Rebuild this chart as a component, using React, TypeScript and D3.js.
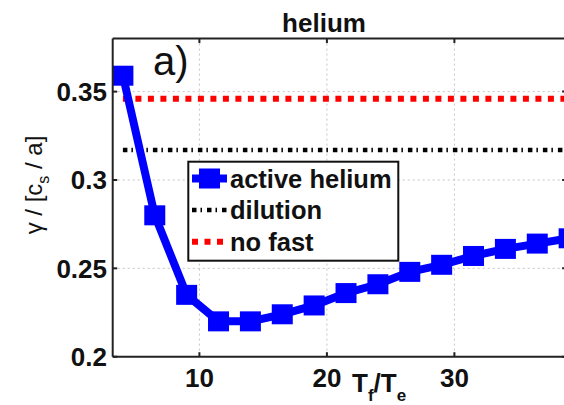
import React from "react";
import * as d3 from "d3";

const tf = [4, 6.5, 9, 11.5, 14, 16.5, 19, 21.5, 24, 26.5, 29, 31.5, 34, 36.5, 39];
const activeHelium = [0.359, 0.28, 0.235, 0.22, 0.22, 0.224, 0.229, 0.236, 0.241, 0.248, 0.252, 0.257, 0.261, 0.264, 0.267];
const dilution = 0.317;
const noFast = 0.346;
const xTicks = [10, 20, 30];
const yTicks = [0.2, 0.25, 0.3, 0.35];
const yTickLabels = ["0.2", "0.25", "0.3", "0.35"];
const legendLabels = ["active helium", "dilution", "no fast"];

const W = 564, H = 405;
const L = 112.7, R = 566.6, T = 38.6, B = 356.7;
const FONT = "'Liberation Sans', Arial, Helvetica, sans-serif";

export default function App() {
  const x = d3.scaleLinear().domain([3.2, 38.8]).range([L, R]);
  const y = d3.scaleLinear().domain([0.2, 0.38]).range([B, T]);
  const line = d3.line<number>().x((d, i) => x(tf[i])).y((d) => y(d));
  const ms = 21;
  const tl = 4.5;
  const x0 = tf[0], x1 = tf[tf.length - 1];
  const legX = 188.3, legY = 161.7, legW = 210, legH = 99;
  const rows = [178.5, 210, 241.7];
  return (
    <svg width={W} height={H} style={{ position: "absolute", left: 0, top: 0, background: "#fff" }} fontFamily={FONT}>
      <rect x={0} y={0} width={W} height={H} fill="#fff" />
      {/* grid */}
      {xTicks.map((t) => (
        <line key={"gx" + t} x1={x(t)} x2={x(t)} y1={T} y2={B} stroke="#c4c4c4" strokeWidth={1} strokeDasharray="2 3" />
      ))}
      {yTicks.slice(1).map((t) => (
        <line key={"gy" + t} x1={L} x2={R} y1={y(t)} y2={y(t)} stroke="#c4c4c4" strokeWidth={1} strokeDasharray="2 3" />
      ))}
      {/* reference lines */}
      <line x1={x(x0)} x2={x(x1)} y1={y(noFast)} y2={y(noFast)} stroke="#ff0000" strokeWidth={6} strokeDasharray="6 6.5" />
      <line x1={x(x0)} x2={x(x1)} y1={y(dilution)} y2={y(dilution)} stroke="#000" strokeWidth={4.5} strokeDasharray="4.5 4 1.5 5" />
      {/* active helium */}
      <path d={line(activeHelium) || ""} fill="none" stroke="#0000ff" strokeWidth={8} strokeLinejoin="round" />
      {activeHelium.map((v, i) => (
        <rect key={"m" + i} x={x(tf[i]) - ms / 2} y={y(v) - 10} width={ms} height={20} fill="#0000ff" />
      ))}
      {/* frame */}
      <line x1={L} x2={L} y1={T} y2={B} stroke="#222" strokeWidth={2} />
      <line x1={L} x2={R} y1={B} y2={B} stroke="#222" strokeWidth={2} />
      <line x1={L} x2={R} y1={T} y2={T} stroke="#222" strokeWidth={2} />
      <line x1={R} x2={R} y1={T} y2={B} stroke="#222" strokeWidth={2} />
      {xTicks.map((t) => (
        <g key={"tx" + t}>
          <line x1={x(t)} x2={x(t)} y1={B} y2={B - tl} stroke="#222" strokeWidth={2} />
          <line x1={x(t)} x2={x(t)} y1={T} y2={T + tl} stroke="#222" strokeWidth={2} />
          <text x={x(t)} y={387} textAnchor="middle" fontSize={26} fontWeight="bold" fill="#111">{t}</text>
        </g>
      ))}
      {yTicks.map((t, i) => (
        <g key={"ty" + t}>
          <line x1={L} x2={L + tl} y1={y(t)} y2={y(t)} stroke="#222" strokeWidth={2} />
          <line x1={R} x2={R - tl} y1={y(t)} y2={y(t)} stroke="#222" strokeWidth={2} />
          <text x={107} y={y(t) + 9.5} textAnchor="end" fontSize={26} fontWeight="bold" fill="#111">{yTickLabels[i]}</text>
        </g>
      ))}
      {/* title */}
      <text x={324} y={32} textAnchor="middle" fontSize={26} fontWeight="bold" fill="#111">helium</text>
      <text x={153} y={75} fontSize={40} fill="#111">a)</text>
      {/* axis labels */}
      <text transform="translate(42,185) rotate(-90)" textAnchor="middle" fontSize={24} fill="#111">
        <tspan>γ / [c</tspan>
        <tspan fontSize={16} dy={7}>s</tspan>
        <tspan dy={-7}> / a]</tspan>
      </text>
      <text x={352} y={392} fontSize={26} fontWeight="bold" fill="#111">
        <tspan>T</tspan>
        <tspan fontSize={17} dy={9}>f</tspan>
        <tspan dy={-9}>/T</tspan>
        <tspan fontSize={17} dy={9}>e</tspan>
      </text>
      {/* legend */}
      <rect x={legX} y={legY} width={legW} height={legH} fill="#fff" stroke="#111" strokeWidth={2} />
      <line x1={192} x2={227} y1={rows[0]} y2={rows[0]} stroke="#0000ff" strokeWidth={8} />
      <rect x={209.5 - ms / 2} y={rows[0] - 10} width={ms} height={20} fill="#0000ff" />
      <line x1={192} x2={227} y1={rows[1]} y2={rows[1]} stroke="#000" strokeWidth={4.5} strokeDasharray="4.5 4 1.5 5" />
      <line x1={192} x2={228} y1={rows[2]} y2={rows[2]} stroke="#ff0000" strokeWidth={6} strokeDasharray="6 6.5" />
      {legendLabels.map((s, i) => (
        <text key={s} x={230} y={rows[i] + 9} fontSize={25.5} fontWeight="bold" fill="#111">{s}</text>
      ))}
    </svg>
  );
}
